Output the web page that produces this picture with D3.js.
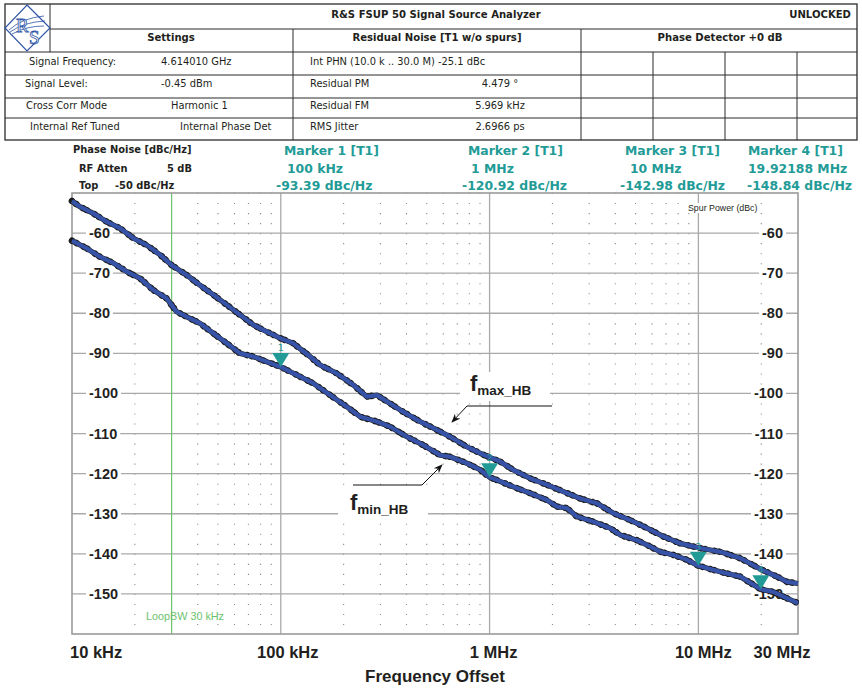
<!DOCTYPE html>
<meta charset="utf-8">
<style>
body { margin: 0; background: #fff; }
svg text { font-family: "DejaVu Sans", Verdana, sans-serif; }
.ax { font-family: "Liberation Sans", Arial, sans-serif !important; font-weight: bold; fill: #231f20; }
</style>
<svg width="862" height="688"></svg>
<script src="https://d3js.org/d3.v7.min.js"></script>
<script>

// ---------- data ----------
var upperTrace = [
  [1e4,-52.0],[1.09e4,-53.4],[1.265e4,-55.1],[1.47e4,-57.2],[1.70e4,-58.8],[1.97e4,-61.3],
  [2.28e4,-63.0],[2.64e4,-65.4],[3.0e4,-68.0],[3.55e4,-70.5],[4.1e4,-73.0],[4.75e4,-75.4],
  [5.51e4,-77.9],[6.38e4,-80.4],[7.39e4,-82.9],[8.57e4,-84.6],[9.93e4,-86.2],[1.148e5,-87.5],
  [1.352e5,-90.4],[1.542e5,-92.9],[1.854e5,-95.0],[2.228e5,-97.9],[2.584e5,-100.8],[2.884e5,-100.4],
  [3.34e5,-102.5],[3.86e5,-104.6],[4.65e5,-107.0],[5.59e5,-109.1],[6.47e5,-110.8],[7.78e5,-113.3],
  [9.35e5,-115.3],[1.124e6,-117.0],[1.301e6,-119.1],[1.566e6,-121.2],[1.883e6,-122.8],[2.262e6,-124.5],
  [2.718e6,-126.2],[3.266e6,-127.4],[3.926e6,-129.9],[4.718e6,-131.6],[5.675e6,-133.6],[6.812e6,-135.7],
  [8.186e6,-137.4],[1.021e7,-138.6],[1.274e7,-139.5],[1.588e7,-141.1],[1.982e7,-143.8],[2.383e7,-145.7],
  [2.661e7,-147.0],[3.0e7,-147.4]
];
var lowerTrace = [
  [1e4,-61.9],[1.176e4,-63.8],[1.36e4,-65.9],[1.58e4,-67.5],[1.83e4,-69.6],[2.12e4,-71.3],
  [2.45e4,-74.2],[2.84e4,-76.3],[3.17e4,-79.6],[3.55e4,-80.9],[4.1e4,-82.5],[4.75e4,-85.0],
  [5.51e4,-87.5],[6.38e4,-90.0],[7.39e4,-90.8],[8.57e4,-92.1],[1e5,-93.39],[1.194e5,-95.4],
  [1.433e5,-97.5],[1.722e5,-100.4],[2.07e5,-103.3],[2.40e5,-105.8],[2.88e5,-107.0],[3.34e5,-108.3],
  [4.02e5,-110.8],[4.82e5,-112.9],[5.80e5,-115.4],[6.47e5,-115.8],[7.78e5,-117.4],[9.0e5,-119.0],
  [1e6,-120.92],[1.084e6,-121.6],[1.301e6,-123.3],[1.566e6,-124.9],[1.883e6,-126.6],[2.10e6,-128.2],
  [2.345e6,-128.6],[2.618e6,-130.7],[3.147e6,-132.0],[3.784e6,-133.6],[4.225e6,-135.3],[5.08e6,-136.6],
  [5.888e6,-138.2],[6.577e6,-139.5],[7.604e6,-140.3],[8.811e6,-141.5],[1e7,-142.98],[1.274e7,-144.5],
  [1.588e7,-145.7],[1.99219e7,-148.84],[2.291e7,-149.5],[2.661e7,-151.1],[3.0e7,-152.3]
];

var markerFreqs = [1e5, 1e6, 1e7, 19.92188e6];
var markerValues = [-93.39, -120.92, -142.98, -148.84];
var markerNames = ["Marker 1 [T1]", "Marker 2 [T1]", "Marker 3 [T1]", "Marker 4 [T1]"];
var markerFreqText = ["100 kHz", "1 MHz", "10 MHz", "19.92188 MHz"];

var yTicks = [-60, -70, -80, -90, -100, -110, -120, -130, -140, -150];
var xTickValues = [1e4, 1e5, 1e6, 1e7, 3e7];
var xTickLabels = ["10 kHz", "100 kHz", "1 MHz", "10 MHz", "30 MHz"];
var loopBW = 3e4;

var settingsRows = [
  ["Signal Frequency:", "4.614010 GHz"],
  ["Signal Level:", "-0.45 dBm"],
  ["Cross Corr Mode", "Harmonic 1"],
  ["Internal Ref Tuned", "Internal Phase Det"]
];
var noiseRows = [
  ["Int PHN (10.0 k .. 30.0 M)  -25.1 dBc", ""],
  ["Residual PM", "4.479 °"],
  ["Residual FM", "5.969 kHz"],
  ["RMS Jitter", "2.6966 ps"]
];

// ---------- setup ----------
var svg = d3.select("svg");
var teal = "#229b97", blue = "#3753a8", gridC = "#a9a9a9";

var x = d3.scaleLog().domain([1e4, 3e7]).range([72, 798]);
var y = d3.scaleLinear().domain([-160, -50]).range([634, 193]);

// ---------- header table ----------
var tbl = svg.append("g").attr("stroke", "#2b2b2b").attr("stroke-width", 1).attr("fill", "none");
tbl.append("rect").attr("x", 5).attr("y", 4).attr("width", 852).attr("height", 136).attr("stroke-width", 1.3);
[[50,4,50,52],[50,29,857,29],[5,52,857,52],[5,75,857,75],[5,98,857,98],[5,118,857,118],
 [293,29,293,140],[581,29,581,140],[653,52,653,140],[725,52,725,140],[797,52,797,140]]
  .forEach(function(l) {
    tbl.append("line").attr("x1", l[0]).attr("y1", l[1]).attr("x2", l[2]).attr("y2", l[3]);
  });

// logo
var logo = svg.append("g").attr("fill", "none").attr("stroke", "#2f56a6");
logo.append("polygon").attr("points", "27,5 50,28 27,51 5,28").attr("stroke-width", 1.2);
logo.append("path").attr("d", "M9,30 Q22,18 44,16").attr("stroke-width", 0.8);
logo.append("path").attr("d", "M10,32 Q24,22 45,21").attr("stroke-width", 0.8);
logo.append("path").attr("d", "M12,34 Q26,26 44,26").attr("stroke-width", 0.8);
logo.append("text").attr("x", 16).attr("y", 32).attr("font-size", 19).attr("fill", "#fff")
  .attr("stroke", "#2f56a6").attr("stroke-width", 0.8).style("font-family", "Liberation Serif, serif").text("R");
logo.append("text").attr("x", 29).attr("y", 44).attr("font-size", 19).attr("fill", "#fff")
  .attr("stroke", "#2f56a6").attr("stroke-width", 0.8).style("font-family", "Liberation Serif, serif").text("S");

function txt(xp, yp, s, opt) {
  opt = opt || {};
  return svg.append("text").attr("x", xp).attr("y", yp)
    .attr("font-size", opt.size || 9.9)
    .attr("font-weight", opt.bold ? "bold" : "normal")
    .attr("text-anchor", opt.anchor || "start")
    .attr("fill", opt.fill || "#231f20")
    .text(s);
}

txt(436, 17.5, "R&S FSUP 50 Signal Source Analyzer", {bold: true, anchor: "middle", size: 10.1});
txt(851, 17.5, "UNLOCKED", {bold: true, anchor: "end", size: 10.1});
txt(171, 41, "Settings", {bold: true, anchor: "middle", size: 10.1});
txt(437, 41, "Residual Noise [T1 w/o spurs]", {bold: true, anchor: "middle", size: 10.1});
txt(720, 41, "Phase Detector +0 dB", {bold: true, anchor: "middle", size: 10.1});

var rowBase = [64.5, 87, 109, 130];
var setLabelX = [29, 25, 26, 30], setValX = [161, 161, 171, 180];
settingsRows.forEach(function(r, i) {
  txt(setLabelX[i], rowBase[i], r[0]);
  txt(setValX[i], rowBase[i], r[1]);
});
noiseRows.forEach(function(r, i) {
  txt(310, rowBase[i], r[0]);
  if (r[1]) txt(500, rowBase[i], r[1], {anchor: "middle"});
});

// ---------- marker info block ----------
txt(73, 153, "Phase Noise [dBc/Hz]", {bold: true, size: 9.9});
txt(79, 172, "RF Atten", {bold: true, size: 9.9});
txt(167, 172, "5 dB", {bold: true, size: 9.9});
txt(79, 189, "Top", {bold: true, size: 9.9});
txt(115, 189, "-50 dBc/Hz", {bold: true, size: 9.9});

var mNameX = [284, 468, 625, 748], mFreqX = [287, 471, 630, 748], mValX = [276, 462, 620, 747];
markerNames.forEach(function(n, i) {
  txt(mNameX[i], 155, n, {bold: true, size: 12.4, fill: teal});
  txt(mFreqX[i], 172.5, markerFreqText[i], {bold: true, size: 12.4, fill: teal});
  txt(mValX[i], 190, markerValues[i].toFixed(2) + " dBc/Hz", {bold: true, size: 12.4, fill: teal});
});

// ---------- plot grid ----------
var plot = svg.append("g");
var minor = x.ticks().filter(function(t) {
  var m = Math.round(t / Math.pow(10, Math.floor(Math.log10(t) + 1e-9)));
  return m !== 1 && t !== loopBW && t < 3e7;
});
var dotStep = (y(-160) - y(-50)) / 44;
plot.selectAll(".minor").data(minor).enter().append("line")
  .attr("x1", function(d) { return x(d); }).attr("x2", function(d) { return x(d); })
  .attr("y1", y(-50)).attr("y2", y(-160))
  .attr("stroke", "#8a8a8a").attr("stroke-width", 1.1)
  .attr("stroke-dasharray", "1.1 " + (dotStep - 1.1));

plot.selectAll(".hgrid").data(yTicks).enter().append("line")
  .attr("x1", x(1e4)).attr("x2", x(3e7))
  .attr("y1", function(d) { return y(d); }).attr("y2", function(d) { return y(d); })
  .attr("stroke", gridC).attr("stroke-width", 1.3);
plot.selectAll(".vgrid").data([1e5, 1e6, 1e7]).enter().append("line")
  .attr("x1", function(d) { return x(d); }).attr("x2", function(d) { return x(d); })
  .attr("y1", y(-50)).attr("y2", y(-160))
  .attr("stroke", gridC).attr("stroke-width", 1.3);

// loop bandwidth line
plot.append("line").attr("x1", x(loopBW)).attr("x2", x(loopBW)).attr("y1", y(-50)).attr("y2", y(-160))
  .attr("stroke", "#6cc26c").attr("stroke-width", 1.2);
txt(146, 620, "LoopBW 30 kHz", {size: 10.8, fill: "#6cc26c"}).style("font-family", "Liberation Sans, Arial, sans-serif");

// border
plot.append("rect").attr("x", x(1e4)).attr("y", y(-50))
  .attr("width", x(3e7) - x(1e4)).attr("height", y(-160) - y(-50))
  .attr("fill", "none").attr("stroke", "#9a9a9a").attr("stroke-width", 1.6);

// y labels, both sides with white backing
var ybg = svg.append("g"), yl = svg.append("g");
yTicks.forEach(function(v) {
  var left = yl.append("text").attr("class", "ax").attr("x", 89).attr("y", y(v) + 5)
    .attr("font-size", 14.5).text(v);
  var right = yl.append("text").attr("class", "ax").attr("x", 783).attr("y", y(v) + 5)
    .attr("text-anchor", "end").attr("font-size", 14.5).text(v);
  [left, right].forEach(function(t) {
    var b = t.node().getBBox();
    ybg.append("rect").attr("x", b.x - 3).attr("y", y(v) - 8)
      .attr("width", b.width + 6).attr("height", 16).attr("fill", "#fff");
  });
});

// spur power label
var spbg = svg.append("rect");
var sp = svg.append("text").attr("x", 688).attr("y", 211).attr("font-size", 8.8)
  .style("font-family", "Liberation Sans, Arial, sans-serif").attr("fill", "#231f20")
  .text("Spur Power (dBc)");
var spb = sp.node().getBBox();
spbg.attr("x", spb.x - 1).attr("y", spb.y)
  .attr("width", spb.width + 2).attr("height", spb.height).attr("fill", "#fff");

// x labels
var xOff = [-2, 7, 4, 5, -16];
xTickValues.forEach(function(v, i) {
  svg.append("text").attr("class", "ax")
    .attr("x", x(v) + xOff[i]).attr("y", 658)
    .attr("text-anchor", i === 0 ? "start" : "middle")
    .attr("font-size", 16.5).text(xTickLabels[i]);
});
svg.append("text").attr("class", "ax").attr("x", 435).attr("y", 682)
  .attr("text-anchor", "middle").attr("font-size", 17).text("Frequency Offset");

// ---------- annotations ----------
svg.append("rect").attr("x", 460).attr("y", 372).attr("width", 90).attr("height", 29).attr("fill", "#fff");
svg.append("rect").attr("x", 338).attr("y", 489).attr("width", 90).attr("height", 30).attr("fill", "#fff");

var defs = svg.append("defs");
defs.append("marker").attr("id", "ah").attr("viewBox", "0 0 10 10").attr("refX", 9).attr("refY", 5)
  .attr("markerWidth", 9).attr("markerHeight", 9).attr("orient", "auto")
  .append("path").attr("d", "M0,1 L10,5 L0,9 L3,5 Z").attr("fill", "#111");

svg.append("polyline").attr("points", "552,406 467,406 452,422")
  .attr("fill", "none").attr("stroke", "#111").attr("stroke-width", 1).attr("marker-end", "url(#ah)");
svg.append("polyline").attr("points", "353,485 422,485 442,465")
  .attr("fill", "none").attr("stroke", "#111").attr("stroke-width", 1).attr("marker-end", "url(#ah)");

function fLabel(xp, yp, sub) {
  var t = svg.append("text").attr("class", "ax").attr("x", xp).attr("y", yp).attr("font-size", 22);
  t.append("tspan").text("f");
  t.append("tspan").attr("font-size", 13.5).attr("dy", 4).text(sub);
}
fLabel(470, 391, "max_HB");
fLabel(350, 510, "min_HB");

// ---------- traces ----------
var line = d3.line().x(function(d) { return x(d[0]); }).y(function(d) { return y(d[1]); });
var tr = svg.append("g");
[upperTrace, lowerTrace].forEach(function(data) {
  tr.append("path").attr("d", line(data)).attr("fill", "none")
    .attr("stroke", "#1a1a1a").attr("stroke-width", 5.2).attr("stroke-linejoin", "round");
  tr.append("path").attr("d", line(data)).attr("fill", "none")
    .attr("stroke", "#1a1a1a").attr("stroke-width", 6.6).attr("stroke-linecap", "round")
    .attr("stroke-dasharray", "0.1 5 0.1 8 0.1 4 0.1 9");
  tr.append("path").attr("d", line(data)).attr("fill", "none")
    .attr("stroke", blue).attr("stroke-width", 4.3).attr("stroke-linejoin", "round");
});

// ---------- markers ----------
markerFreqs.forEach(function(f, i) {
  var mx = x(f), my = y(markerValues[i]);
  svg.append("path").attr("d", "M" + (mx - 8.5) + "," + (my - 14) + " L" + (mx + 8.5) + "," + (my - 14) + " L" + mx + "," + my + " Z")
    .attr("fill", teal);
  svg.append("text").attr("x", mx).attr("y", my - 16).attr("text-anchor", "middle")
    .attr("font-size", 9.5).attr("fill", teal).text(i + 1);
});

</script>
